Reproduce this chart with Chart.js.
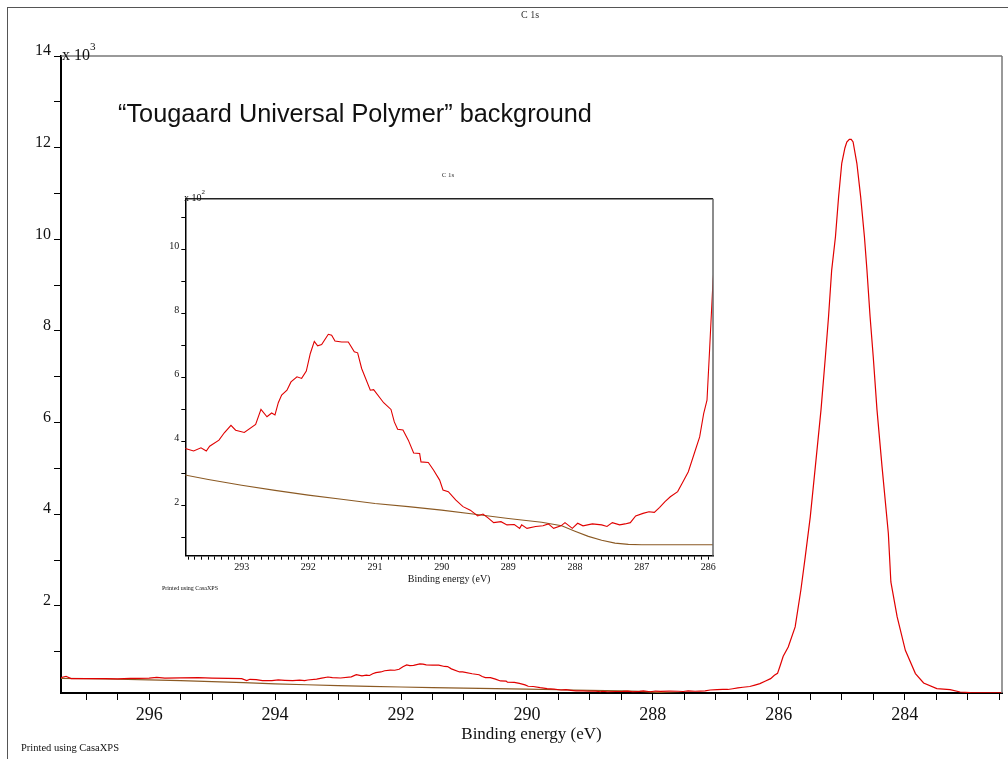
<!DOCTYPE html>
<html>
<head>
<meta charset="utf-8">
<script src="https://cdn.jsdelivr.net/npm/chart.js@4.4.1/dist/chart.umd.min.js"></script>
<style>
    body { margin: 0; background: #fff; }
    #wrap { position: relative; width: 1008px; height: 759px; overflow: hidden; background: #fff; }
    #page { position: absolute; left: 7px; top: 7px; width: 1010px; height: 760px; border-left: 1.5px solid #555; border-top: 1.5px solid #555; }
    #main { position: absolute; left: 0; top: 0; }
    #insetBox { position: absolute; left: 150px; top: 160px; width: 570px; height: 440px; background: #fff; }
    .txt { position: absolute; font-family: "Liberation Serif", "Times New Roman", serif; color: #111; white-space: nowrap; }
    .txt sup { font-size: 70%; position: relative; top: -0.4em; }
</style>
</head>
<body>
<div id="wrap">
    <div id="page"></div>
    <canvas id="main" width="1008" height="759"></canvas>
    <div id="insetBox"><canvas id="inset" width="570" height="440"></canvas></div>

    <div class="txt" style="left:480px; top:9px; width:100px; text-align:center; font-size:10px; line-height:12px; color:#333;">C 1s</div>
    <div class="txt" style="left:62px; top:42px; font-size:16px; line-height:16px;">x 10<sup>3</sup></div>
    <div class="txt" style="left:118px; top:100px; font-family:'Liberation Sans', Arial, sans-serif; font-size:25.3px; line-height:26px;">“Tougaard Universal Polymer” background</div>
    <div class="txt" style="left:21px; top:742px; font-size:10.5px; line-height:12px;">Printed using CasaXPS</div>

    <div class="txt" style="left:420px; top:171px; width:56px; text-align:center; font-size:7px; line-height:8px; color:#333;">C 1s</div>
    <div class="txt" style="left:184px; top:190px; font-size:10px; line-height:10px;">x 10<sup>2</sup></div>
    <div class="txt" style="left:162px; top:585px; font-size:6px; line-height:7px;">Printed using CasaXPS</div>
</div>

<script>
// --- C 1s spectrum (binding energy in eV, counts) --- //
const bindingEnergy = [
    297.40, 297.32, 297.24, 297.00, 296.70, 296.50, 296.30, 296.17, 296.00, 295.88,
    295.75, 295.50, 295.22, 295.00, 294.75, 294.53, 294.45, 294.40, 294.30, 294.20,
    294.05, 293.95,
    293.845, 293.72, 293.61, 293.53, 293.48, 293.34, 293.26, 293.16, 293.09, 292.96,
    292.79, 292.71, 292.62, 292.55, 292.50, 292.45, 292.40, 292.32, 292.26, 292.17,
    292.10, 292.03, 291.97, 291.91, 291.86, 291.80, 291.70, 291.65, 291.60, 291.50,
    291.40, 291.31, 291.26, 291.20, 291.07, 291.02, 290.87, 290.76, 290.71, 290.66,
    290.58, 290.50, 290.42, 290.33, 290.31, 290.20, 290.12, 290.03, 289.98, 289.90,
    289.79, 289.68, 289.57, 289.46, 289.38, 289.30, 289.22, 289.11, 289.02, 288.91,
    288.83, 288.80, 288.72, 288.59, 288.48, 288.40, 288.32, 288.21, 288.15, 288.04,
    287.96, 287.88, 287.74, 287.60, 287.52, 287.44, 287.33, 287.25, 287.17, 287.09,
    286.98, 286.89, 286.81, 286.73, 286.65, 286.57, 286.46, 286.38, 286.30, 286.21,
    286.13, 286.07, 286.02, 285.98, 285.93, 285.85, 285.74, 285.65, 285.58, 285.50,
    285.42, 285.33, 285.26, 285.21, 285.16, 285.10, 285.05, 285.00, 284.95, 284.92,
    284.88, 284.85, 284.82, 284.76, 284.70, 284.64, 284.60, 284.55, 284.50, 284.44,
    284.36, 284.26, 284.22, 284.12, 283.99, 283.83, 283.70, 283.49, 283.28, 283.12,
    282.96, 282.70, 282.455
];
const counts = [
    436, 465, 414, 414, 414, 410, 420, 421, 425, 443,
    425, 428, 436, 425, 420, 414, 370, 399, 392, 370,
    370, 385,
    377, 369, 379, 369, 384, 403, 426, 449, 434, 427,
    452, 499, 476, 488, 482, 520, 544, 559, 585, 601,
    596, 619, 674, 712, 698, 702, 734, 731, 713, 710,
    710, 679, 676, 627, 559, 561, 520, 499, 460, 437,
    435, 403, 363, 361, 335, 333, 309, 278, 247, 242,
    216, 195, 184, 166, 172, 159, 145, 148, 138, 139,
    127, 138, 127, 133, 135, 141, 127, 135, 145, 127,
    143, 135, 141, 138, 133, 145, 138, 141, 145, 166,
    174, 179, 177, 193, 211, 226, 242, 273, 304, 362,
    413, 486, 528, 690, 900, 1104, 1541, 2342, 3069, 3943,
    5034, 6272, 7436, 8310, 9329, 10056, 10930, 11659, 11993, 12120,
    12183, 12180, 12124, 11659, 10930, 10056, 9329, 8310, 7436, 6272,
    5034, 3580, 2524, 1759, 1032, 524, 318, 196, 174, 122,
    109, 106, 105
];

// Tougaard background
const bgEnergy = [
    297.40, 297.00, 296.50, 296.00, 295.50, 295.00, 294.50, 294.00, 293.50, 293.00,
    292.50, 292.00, 291.50, 291.00, 290.50, 290.00, 289.50, 289.00, 288.50, 288.20,
    288.00, 287.80, 287.60, 287.40, 287.20, 287.00, 286.00, 285.00, 284.00, 283.00,
    282.455
];
const bgCounts = [
    420, 412, 400, 386, 368, 350, 328, 300, 280, 262,
    246, 231, 218, 205, 195, 184, 171, 158, 146, 135,
    118, 102, 90, 81, 77, 76, 76, 76, 76, 76,
    76
];

// tick values (labels are drawn only on the even ones)
const mainYTicks = [1000, 2000, 3000, 4000, 5000, 6000, 7000, 8000, 9000, 10000, 11000, 12000, 13000, 14000];
const insetYTicks = [100, 200, 300, 400, 500, 600, 700, 800, 900, 1000, 1100];

const toPoints = (xs, ys) => xs.map((x, i) => ({ x: x, y: ys[i] }));
const setTicks = values => scale => { scale.ticks = values.map(v => ({ value: v })); };

const redLine = '#e00000';
const brownLine = '#8b5a24';

// draws the top and right edges of the plot frame
const framePlugin = {
    id: 'frame',
    afterDraw(chart, args, opts) {
        const { ctx, chartArea: a } = chart;
        ctx.save();
        ctx.lineWidth = opts.width;
        ctx.strokeStyle = opts.topColor;
        ctx.beginPath();
        ctx.moveTo(a.left, a.top);
        ctx.lineTo(a.right, a.top);
        ctx.stroke();
        ctx.strokeStyle = opts.rightColor;
        ctx.beginPath();
        ctx.moveTo(a.right, a.top);
        ctx.lineTo(a.right, a.bottom);
        ctx.stroke();
        ctx.restore();
    }
};

const nearInt = v => Math.abs(v - Math.round(v)) < 0.01;

// -- Main chart --//
new Chart(document.getElementById('main'), {
    type: 'line',
    data: {
        datasets: [
            { data: toPoints(bindingEnergy, counts), borderColor: redLine, borderWidth: 1.2, pointRadius: 0, tension: 0 },
            { data: toPoints(bgEnergy, bgCounts), borderColor: brownLine, borderWidth: 1.2, pointRadius: 0, tension: 0 }
        ]
    },
    plugins: [framePlugin],
    options: {
        responsive: false,
        animation: false,
        events: [],
        devicePixelRatio: 1,
        layout: { padding: { left: 7, top: 56, right: 6, bottom: 0 } },
        plugins: {
            legend: { display: false },
            tooltip: { enabled: false },
            frame: { width: 1.5, topColor: '#777', rightColor: '#777' }
        },
        scales: {
            x: {
                type: 'linear',
                reverse: true,
                min: 282.455,
                max: 297.40,
                afterFit: s => { s.height = 66; },
                border: { display: true, color: '#000', width: 2 },
                grid: { drawOnChartArea: false, drawTicks: true, tickLength: 7, tickColor: '#000', tickWidth: 1 },
                ticks: {
                    stepSize: 0.5,
                    includeBounds: false,
                    autoSkip: false,
                    maxRotation: 0,
                    padding: 4,
                    color: '#111',
                    font: { family: 'Liberation Serif', size: 18 },
                    callback: v => (nearInt(v) && Math.round(v) % 2 === 0) ? String(Math.round(v)) : ''
                },
                title: {
                    display: true,
                    text: 'Binding energy (eV)',
                    color: '#111',
                    font: { family: 'Liberation Serif', size: 17 },
                    padding: { top: 0, bottom: 14 }
                }
            },
            y: {
                type: 'linear',
                min: 100,
                max: 14000,
                afterFit: s => { s.width = 54; },
                afterBuildTicks: setTicks(mainYTicks),
                border: { display: true, color: '#000', width: 2 },
                grid: { drawOnChartArea: false, drawTicks: true, tickLength: 7, tickColor: '#000', tickWidth: 1 },
                ticks: {
                    autoSkip: false,
                    padding: 3,
                    labelOffset: -5,
                    color: '#111',
                    font: { family: 'Liberation Serif', size: 16 },
                    callback: v => (Math.round(v) % 2000 === 0) ? String(Math.round(v) / 1000) : ''
                }
            }
        }
    }
});

// -- Inset zoom chart --//
new Chart(document.getElementById('inset'), {
    type: 'line',
    data: {
        datasets: [
            { data: toPoints(bindingEnergy, counts), borderColor: redLine, borderWidth: 1.1, pointRadius: 0, tension: 0 },
            { data: toPoints(bgEnergy, bgCounts), borderColor: brownLine, borderWidth: 1.1, pointRadius: 0, tension: 0 }
        ]
    },
    plugins: [framePlugin],
    options: {
        responsive: false,
        animation: false,
        events: [],
        devicePixelRatio: 1,
        layout: { padding: { left: 10, top: 38.7, right: 7, bottom: 0 } },
        plugins: {
            legend: { display: false },
            tooltip: { enabled: false },
            frame: { width: 1.5, topColor: '#222', rightColor: '#666' }
        },
        scales: {
            x: {
                type: 'linear',
                reverse: true,
                min: 285.93,
                max: 293.845,
                afterFit: s => { s.height = 44.3; },
                border: { display: true, color: '#000', width: 1.5 },
                grid: { drawOnChartArea: false, drawTicks: true, tickLength: 4, tickColor: '#000', tickWidth: 1 },
                ticks: {
                    stepSize: 0.1,
                    includeBounds: false,
                    autoSkip: false,
                    maxRotation: 0,
                    padding: 2,
                    color: '#111',
                    font: { family: 'Liberation Serif', size: 10 },
                    callback: v => nearInt(v) ? String(Math.round(v)) : ''
                },
                title: {
                    display: true,
                    text: 'Binding energy (eV)',
                    color: '#111',
                    font: { family: 'Liberation Serif', size: 10 },
                    padding: { top: 0, bottom: 15 }
                }
            },
            y: {
                type: 'linear',
                min: 41.6,
                max: 1158,
                afterFit: s => { s.width = 25.3; },
                afterBuildTicks: setTicks(insetYTicks),
                border: { display: true, color: '#000', width: 1.5 },
                grid: { drawOnChartArea: false, drawTicks: true, tickLength: 4, tickColor: '#000', tickWidth: 1 },
                ticks: {
                    autoSkip: false,
                    padding: 2,
                    labelOffset: -3,
                    color: '#111',
                    font: { family: 'Liberation Serif', size: 10 },
                    callback: v => (Math.round(v) % 200 === 0) ? String(Math.round(v) / 100) : ''
                }
            }
        }
    }
});
</script>
</body>
</html>
